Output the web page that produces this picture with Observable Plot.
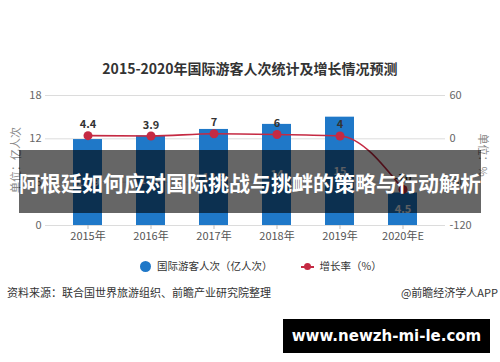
<!DOCTYPE html>
<html><head><meta charset="utf-8">
<script src="https://cdn.jsdelivr.net/npm/d3@7"></script>
<script src="https://cdn.jsdelivr.net/npm/@observablehq/plot@0.6"></script>
<style>
body{margin:0;background:#fff;font-family:"Noto Sans CJK SC","Noto Sans",sans-serif;}
#wrap{position:relative;width:500px;height:362px;overflow:hidden;background:#fff;}
#chart{position:absolute;left:0;top:0;}
.abs{position:absolute;white-space:nowrap;}
#title{left:0;width:500px;top:58px;text-align:center;font-size:14px;font-weight:700;color:#333;line-height:20px;}
#ylab{left:15px;top:160px;transform:translate(-50%,-50%) rotate(-90deg);font-size:11px;color:#888;}
#ylab2{left:484px;top:155px;transform:translate(-50%,-50%) rotate(90deg);font-size:11px;color:#888;}
#legend{top:258px;left:140px;font-size:10.5px;color:#333;line-height:16px;display:flex;align-items:center;}
.ldot{display:inline-block;width:11px;height:11px;border-radius:50%;background:#1f78c8;margin-right:6px;}
.lline{display:inline-block;position:relative;width:13px;height:11px;margin-left:28px;margin-right:6px;}
.lline:before{content:"";position:absolute;left:0;right:0;top:5px;height:2px;background:#c52a43;}
.lline:after{content:"";position:absolute;left:3px;top:2px;width:7px;height:7px;border-radius:50%;background:#c52a43;}
#src{left:7px;top:284px;font-size:11px;color:#333;line-height:16px;}
#app{right:2px;top:284px;font-size:11px;color:#333;line-height:16px;}
#overlay{left:19px;top:150px;width:462px;height:63px;background:rgba(0,0,0,0.6);color:#fff;font-weight:700;font-size:21px;display:flex;align-items:center;justify-content:center;}
#url{left:283px;top:319px;width:207px;height:34px;background:#000;color:#fff;font-family:"DejaVu Sans",sans-serif;font-weight:700;font-size:15px;display:flex;align-items:center;justify-content:center;}
</style></head><body>
<div id="wrap">
<div id="chart"></div>
<div class="abs" id="title">2015-2020年国际游客人次统计及增长情况预测</div>
<div class="abs" id="ylab">单位：亿人次</div>
<div class="abs" id="ylab2">单位：%</div>
<div class="abs" id="legend"><span class="ldot"></span><span>国际游客人次（亿人次）</span><span class="lline"></span><span>增长率（%）</span></div>
<div class="abs" id="src">资料来源：联合国世界旅游组织、前瞻产业研究院整理</div>
<div class="abs" id="app">@前瞻经济学人APP</div>
<div class="abs" id="overlay">阿根廷如何应对国际挑战与挑衅的策略与行动解析</div>
<div class="abs" id="url">www.newzh-mi-le.com</div>
</div>
<script>
const years = ["2015年","2016年","2017年","2018年","2019年","2020年E"];
const visitors = [11.9, 12.4, 13.3, 14, 15, 4.5];
const growth = [4.4, 3.9, 7, 6, 4, -70];
const leftTicks = [0, 6, 12, 18];
const rightTicks = [-120, -60, 0, 60];

// right axis (growth %) domain [-120, 60] mapped onto the left domain [0, 18]
const toLeft = g => (g + 120) / 10;
const fromLeft = v => Math.round(v * 10 - 120);

const data = years.map((year, i) => ({year, v: visitors[i], g: growth[i], gy: toLeft(growth[i])}));

const red = "#c52a43";
const blue = "#1f78c8";

const chart = Plot.plot({
  width: 500,
  height: 362,
  marginTop: 95,
  marginBottom: 137,
  marginLeft: 45,
  marginRight: 55,
  style: {fontFamily: '"Noto Sans CJK SC","Noto Sans",sans-serif', fontSize: "11px", color: "#666", background: "transparent", overflow: "visible"},
  x: {type: "band", domain: years, paddingInner: 0.544, paddingOuter: 0.42, label: null},
  y: {domain: [0, 18], label: null},
  marks: [
    Plot.ruleY(leftTicks, {stroke: "#dcdcdc"}),
    Plot.barY(data, {x: "year", y: "v", fill: blue}),
    Plot.text(data, {x: "year", y: d => d.v / 2, text: d => String(d.v), fill: "#e8eef5", fontSize: 11, fontWeight: 700}),
    Plot.line(data, {x: "year", y: "gy", curve: "monotone-x", stroke: red, strokeWidth: 1.6}),
    Plot.dot(data, {x: "year", y: "gy", r: 4.5, fill: red}),
    Plot.text(data, {x: "year", y: "gy", text: d => String(d.g), dy: -11, fill: "#333", fontSize: 11, fontWeight: 700}),
    Plot.axisX({tickSize: 4, tickPadding: 3, stroke: "#bbb", fill: "#555", label: null}),
    Plot.axisY({ticks: leftTicks, tickSize: 0, tickPadding: 4, fill: "#666", label: null}),
    Plot.axisY({anchor: "right", ticks: rightTicks.map(toLeft), tickFormat: d => String(fromLeft(d)), tickSize: 0, tickPadding: 4, fill: "#666", label: null})
  ]
});
document.getElementById("chart").appendChild(chart);
</script>
</body></html>
